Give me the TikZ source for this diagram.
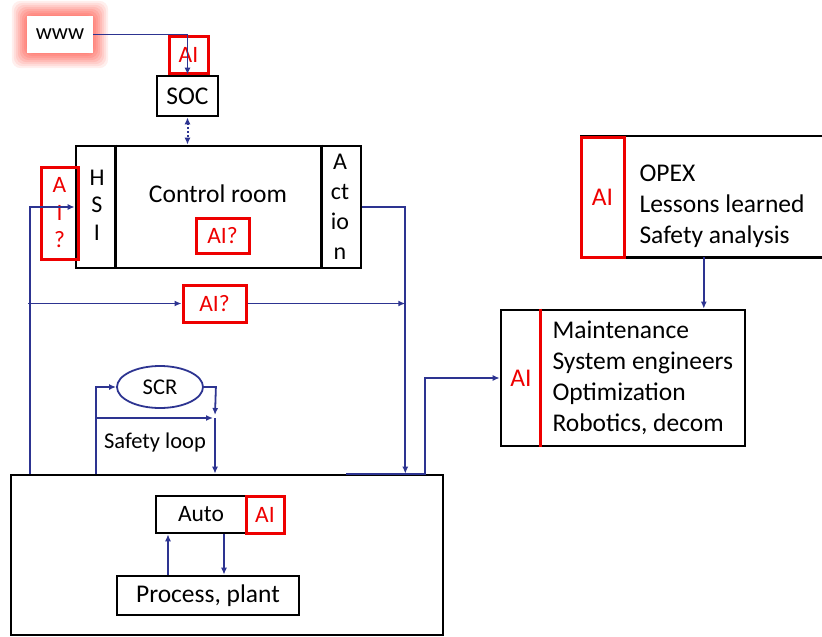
\documentclass[tikz,border=0pt]{standalone}
\usepackage{fontspec}
\setmainfont{Carlito}
\usetikzlibrary{arrows.meta,shapes.geometric,calc}
\definecolor{lineblue}{RGB}{45,52,145}
\definecolor{aired}{RGB}{238,0,0}
\definecolor{glow}{RGB}{255,120,110}
\begin{document}
\begin{tikzpicture}[x=1pt,y=-1pt,
  box/.style={draw=black,line width=2.6pt,rectangle,inner sep=0pt,align=center},
  redbox/.style={draw=aired,line width=3pt,text=aired,rectangle,inner sep=0pt,align=center},
  conn/.style={draw=lineblue,line width=1.8pt},
  arr/.style={conn,-{Latex[length=7pt,width=6pt]}},
  big/.style={font=\fontsize{25.5}{31}\selectfont},
  mid/.style={font=\fontsize{23.5}{28}\selectfont},
  small/.style={font=\fontsize{22.5}{26}\selectfont}
]
\useasboundingbox (0,0) rectangle (822,637);

% www with glow
\node[rectangle,minimum width=66pt,minimum height=37pt,inner sep=0pt] (www) at (60,34.5) {};
\foreach \r/\o in {15/0.12,13/0.14,11/0.16,9/0.2,7/0.25,5/0.3,3/0.35,1/0.4}{
  \fill[glow,opacity=\o,rounded corners=9pt] ($(www.south west)+(-\r,\r)$) rectangle ($(www.north east)+(\r,-\r)$);
}
\fill[white] (www.south west) rectangle (www.north east);
\node[small] (wwwtxt) at (www.center) {www};

% top AI and SOC
\node[redbox,mid,minimum width=39pt,minimum height=37pt] (aitop) at (188.5,54.5) {AI};
\node[box,big,minimum width=61pt,minimum height=40pt] (soc) at (187.5,96) {SOC};

% control room
\node[box,big,minimum width=285pt,minimum height=122pt] (cr) at (218.5,207) {};
\draw[line width=2.6pt] ($(cr.north west)+(41,0)$) coordinate (hsiT) -- ($(cr.south west)+(41,0)$);
\draw[line width=2.6pt] ($(cr.north east)+(-41,0)$) coordinate (actT) -- ($(cr.south east)+(-41,0)$);
\node[big] (crtxt) at (218,194) {Control room};
\node[align=center,font=\fontsize{24}{27.5}\selectfont] (hsi) at (97,205) {H\\S\\I};
\node[align=center,font=\fontsize{24}{30}\selectfont] (act) at (340,207) {A\\ct\\io\\n};
\node[redbox,mid,minimum width=53pt,minimum height=35pt] (crai) at (222.5,235.5) {AI?};
\node[redbox,minimum width=37pt,minimum height=92pt,font=\fontsize{23.5}{27.5}\selectfont] (leftai) at (59.5,213) {A\\I\\?};

% middle AI?
\node[redbox,mid,minimum width=63pt,minimum height=37pt] (aimid) at (214.5,303.5) {AI?};

% SCR
\node[ellipse,draw=lineblue,line width=1.8pt,minimum width=86pt,minimum height=42pt,inner sep=0pt,small] (scr) at (160,387) {SCR};
\node[small] (sl) at (155,442) {Safety loop};

% bottom box
\node[box,minimum width=432pt,minimum height=160pt] (bot) at (227,555) {};
\node[box,mid,minimum width=90pt,minimum height=37pt] (auto) at (201,514.5) {Auto};
\node[redbox,mid,minimum width=38pt,minimum height=37pt] (autoai) at (265,514.5) {AI};
\node[box,big,minimum width=182pt,minimum height=39pt] (plant) at (208,595.5) {Process, plant};

% maintenance box
\node[box,minimum width=244pt,minimum height=136pt] (maint) at (623,378) {};
\draw[aired,line width=2.6pt] ($(maint.north west)+(41,0)$) -- ($(maint.south west)+(41,0)$);
\node[big,text=aired] (maintai) at (521,378) {AI};
\node[big,align=left,anchor=west] (mainttxt) at (549,378) {Maintenance\\System engineers\\Optimization\\Robotics, decom};

% OPEX box
\node[rectangle,minimum width=243pt,minimum height=121pt,inner sep=0pt] (opex) at (702.5,196.5) {};
\draw[line width=2.6pt] (opex.north east) -- (opex.north west) -- (opex.south west) -- (opex.south east);
\node[redbox,big,minimum width=43pt,minimum height=120pt] (opexai) at (602.5,197) {AI};
\node[big,align=left,anchor=west] (opextxt) at (636,206) {OPEX\\Lessons learned\\Safety analysis};

% connectors
\draw[arr] (www.east) -| (soc.north);
\draw[conn,dotted,line width=2pt,{Latex[length=7pt,width=6pt]}-{Latex[length=7pt,width=6pt]}] (soc.south) -- (soc.south |- cr.north);
\coordinate (lupb) at ($(bot.north west)+(20,0)$);
\draw[arr] (lupb) |- (cr.west);
\coordinate (actb) at ($(bot.north east)+(-39,0)$);
\draw[arr] (cr.east) -| (actb);
\coordinate (midstart) at (28,303.5);
\draw[arr] (midstart) -- (aimid.west);
\draw[arr] (aimid.east) -- (aimid.east -| actb);
\coordinate (ob1) at ($(bot.north east)+(-98,0)$);
\coordinate (ob2) at ($(bot.north east)+(-19,0)$);
\draw[arr] (ob1) -- (ob2) |- (maint.west);
\coordinate (opexout) at ($(opex.south west)+(123,0)$);
\draw[arr] (opexout) -- (opexout |- maint.north);
% auto/plant
\draw[arr] (plant.north -| 168,0) -- (auto.south -| 168,0);
\draw[arr] (auto.south -| 224,0) -- (plant.north -| 224,0);
% safety loop
\coordinate (slb) at ($(bot.north west)+(86,0)$);
\coordinate (slr) at (215,418);
\draw[arr] (slb) |- (scr.west);
\draw[arr] (scr.east) -- ++(12,0) -- ($(slr)+(0,-3)$);
\draw[arr] (slb |- slr) -- ($(slr)+(-2,0)$);
\draw[arr] (slr) -- (slr |- bot.north);
\end{tikzpicture}
\end{document}
